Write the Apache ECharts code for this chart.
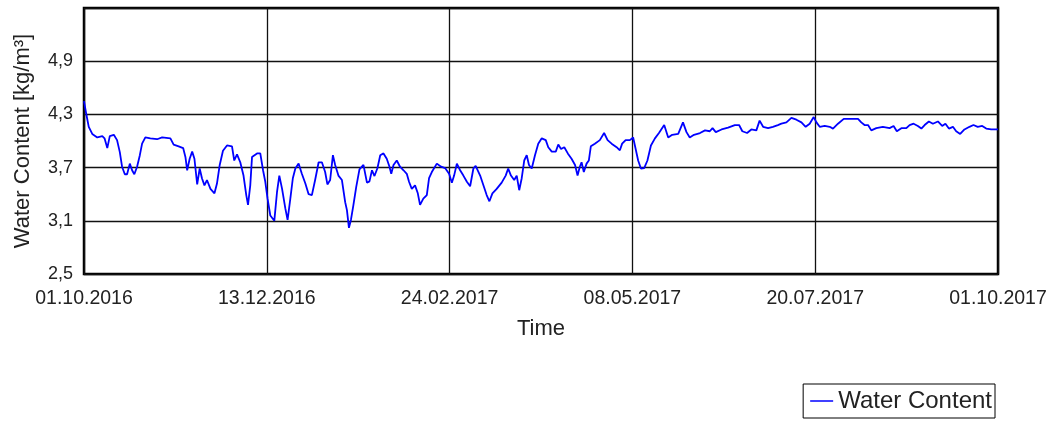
<!DOCTYPE html>
<html>
<head>
<meta charset="utf-8">
<title>Water Content</title>
<script src="https://cdn.jsdelivr.net/npm/echarts@6/dist/echarts.min.js"></script>
<style>
  html, body { margin: 0; padding: 0; background: #fff; }
  #chart { width: 1053px; height: 421px; }
</style>
</head>
<body>
<div id="chart"></div>
<script>
// Measurement period start (day 0) and axis settings
const startDate = Date.UTC(2016, 9, 1);
const axisDays = { min: 0, max: 365, step: 73 };
const yTicks = { min: 2.5, max: 5.5, step: 0.6 };

// Days since 01.10.2016
const dayOffsets = [
  0, 1.0, 1.9, 3.3, 5.3, 7.3, 8.2, 9.3, 10.3, 11.9, 13.2, 14.3, 15.2, 16.3, 17.2, 18.3, 19.2, 20.1, 21.2, 22.3,
  23.2, 24.5, 26.5, 29.2, 31.2, 34.5, 35.8, 37.8, 39.6, 40.5, 41.2, 42.2, 43.2, 44.1, 45.2, 46.2, 47.1, 48.1, 49.1, 50.5,
  52.1, 53.1, 54.2, 55.5, 57.1, 59.1, 60.0, 61.1, 62.4, 63.7, 64.8, 65.5, 66.4, 67.1, 69.1, 70.4, 71.5, 72.4, 73.3, 74.4,
  76.0, 77.1, 78.0, 79.1, 80.4, 81.3, 82.4, 83.4, 84.4, 85.7, 87.0, 88.4, 89.7, 91.0, 92.3, 93.7, 95.0, 96.3, 97.2, 98.3,
  99.4, 100.3, 101.6, 103.0, 104.3, 105.0, 105.8, 106.6, 107.6, 108.7, 110.0, 111.6, 113.0, 114.0, 115.0, 116.0, 117.2, 118.3, 119.6, 120.9,
  122.0, 122.7, 123.6, 124.9, 126.2, 127.6, 128.9, 129.8, 130.9, 132.2, 133.3, 134.2, 135.5, 136.9, 137.8, 138.9, 140.9, 142.6, 144.2, 145.8,
  146.9, 147.8, 148.9, 150.2, 151.5, 152.9, 154.2, 155.5, 156.4, 158.2, 159.5, 160.8, 161.9, 163.1, 164.8, 166.8, 168.4, 169.4, 170.5, 171.8,
  172.8, 173.8, 174.8, 175.8, 176.8, 177.7, 178.8, 180.1, 181.4, 182.8, 184.4, 185.4, 186.8, 188.4, 189.4, 190.5, 191.8, 193.2, 194.7, 196.1,
  197.1, 198.0, 198.7, 199.6, 200.7, 201.6, 202.4, 204.0, 206.0, 207.7, 209.1, 210.7, 212.7, 214.0, 214.9, 216.3, 218.0, 219.3, 220.3, 221.3,
  222.4, 223.7, 225.0, 226.4, 228.0, 229.6, 231.7, 233.3, 234.9, 237.3, 239.2, 240.6, 241.9, 243.6, 246.0, 248.0, 249.9, 251.0, 252.3, 254.6,
  257.2, 259.9, 261.6, 262.9, 264.8, 266.5, 268.5, 269.8, 271.2, 273.2, 275.1, 277.1, 278.5, 280.5, 282.5, 284.5, 286.5, 288.2, 289.8, 291.4,
  292.5, 293.8, 295.8, 297.8, 299.1, 301.1, 303.4, 305.8, 309.1, 310.4, 311.7, 313.1, 314.4, 316.4, 319.0, 321.7, 323.3, 324.6, 326.4, 328.4,
  329.7, 331.3, 333.0, 334.4, 335.7, 337.4, 339.0, 341.0, 342.7, 344.0, 345.4, 347.0, 348.3, 349.9, 351.6, 353.6, 355.2, 356.9, 358.7, 360.3,
  362.3, 364.0, 365.0
];

// Water content [kg/m³]
const waterContent = [
  4.45, 4.29, 4.16, 4.08, 4.04, 4.055, 4.03, 3.92, 4.055, 4.07, 4.01, 3.875, 3.71, 3.625, 3.625, 3.745, 3.67, 3.625, 3.71, 3.84,
  3.97, 4.04, 4.03, 4.02, 4.04, 4.03, 3.96, 3.94, 3.92, 3.82, 3.67, 3.80, 3.88, 3.80, 3.51, 3.69, 3.58, 3.50, 3.56, 3.46,
  3.41, 3.52, 3.73, 3.89, 3.95, 3.94, 3.78, 3.85, 3.76, 3.61, 3.39, 3.28, 3.50, 3.82, 3.86, 3.86, 3.67, 3.54, 3.35, 3.16,
  3.10, 3.43, 3.61, 3.46, 3.24, 3.11, 3.35, 3.58, 3.69, 3.745, 3.63, 3.52, 3.40, 3.39, 3.56, 3.76, 3.76, 3.65, 3.51, 3.56,
  3.84, 3.73, 3.61, 3.56, 3.31, 3.22, 3.02, 3.11, 3.28, 3.48, 3.68, 3.73, 3.53, 3.545, 3.67, 3.605, 3.695, 3.84, 3.86, 3.80,
  3.71, 3.63, 3.73, 3.78, 3.71, 3.67, 3.63, 3.54, 3.46, 3.50, 3.41, 3.28, 3.35, 3.39, 3.58, 3.65, 3.745, 3.71, 3.695, 3.63,
  3.53, 3.61, 3.745, 3.67, 3.61, 3.54, 3.49, 3.69, 3.72, 3.61, 3.50, 3.39, 3.32, 3.41, 3.46, 3.53, 3.61, 3.69, 3.61, 3.56,
  3.61, 3.445, 3.58, 3.78, 3.84, 3.73, 3.69, 3.84, 3.97, 4.03, 4.01, 3.93, 3.88, 3.88, 3.96, 3.91, 3.93, 3.86, 3.80, 3.73,
  3.61, 3.71, 3.76, 3.65, 3.745, 3.78, 3.94, 3.97, 4.01, 4.09, 4.01, 3.97, 3.93, 3.895, 3.97, 4.01, 4.01, 4.04, 3.91, 3.78,
  3.69, 3.695, 3.78, 3.95, 4.03, 4.09, 4.18, 4.04, 4.07, 4.08, 4.21, 4.10, 4.04, 4.07, 4.09, 4.12, 4.11, 4.145, 4.10, 4.13,
  4.15, 4.18, 4.18, 4.11, 4.09, 4.13, 4.12, 4.23, 4.16, 4.145, 4.16, 4.18, 4.195, 4.21, 4.26, 4.24, 4.21, 4.16, 4.195, 4.27,
  4.21, 4.16, 4.17, 4.16, 4.14, 4.195, 4.25, 4.25, 4.25, 4.21, 4.18, 4.18, 4.12, 4.145, 4.16, 4.145, 4.17, 4.11, 4.145, 4.145,
  4.18, 4.195, 4.17, 4.14, 4.18, 4.22, 4.195, 4.22, 4.17, 4.195, 4.14, 4.16, 4.11, 4.08, 4.13, 4.16, 4.18, 4.16, 4.17, 4.14,
  4.13, 4.13, 4.13
];

const seriesPoints = dayOffsets.map((d, i) => [d, waterContent[i]]);

function pad2(n) { return (n < 10 ? '0' : '') + n; }
function dayLabel(v) {
  const d = new Date(startDate + Math.round(v) * 86400000);
  return pad2(d.getUTCDate()) + '.' + pad2(d.getUTCMonth() + 1) + '.' + d.getUTCFullYear();
}

const chart = echarts.init(document.getElementById('chart'), null, { renderer: 'canvas' });
const fontFamily = '"Liberation Sans", Arial, sans-serif';

chart.setOption({
  animation: false,
  backgroundColor: '#ffffff',
  textStyle: { fontFamily: fontFamily },
  grid: {
    left: 84, right: 55, top: 8, bottom: 147,
    show: true,
    borderColor: '#000000',
    borderWidth: 2.5,
    backgroundColor: '#ffffff'
  },
  legend: {
    data: [{ name: 'Water Content', icon: 'rect' }],
    right: 58,
    bottom: 3,
    orient: 'horizontal',
    borderColor: '#000000',
    borderWidth: 1,
    borderRadius: 0,
    padding: [5, 3, 5, 7],
    itemWidth: 23,
    itemHeight: 1.5,
    itemGap: 5,
    itemStyle: { color: '#0000ff' },
    textStyle: { fontSize: 24, color: '#222', fontFamily: fontFamily, padding: [0, 0, 0, 0] }
  },
  xAxis: {
    type: 'value',
    min: axisDays.min,
    max: axisDays.max,
    interval: axisDays.step,
    name: 'Time',
    nameLocation: 'middle',
    nameGap: 44,
    nameTextStyle: { fontSize: 22, color: '#222', fontFamily: fontFamily },
    axisLine: { show: false },
    axisTick: { show: false },
    axisLabel: {
      fontSize: 19.5,
      color: '#222',
      margin: 15,
      showMinLabel: true,
      showMaxLabel: true,
      formatter: dayLabel
    },
    splitLine: { show: true, lineStyle: { color: '#111', width: 1.3 } }
  },
  yAxis: {
    type: 'value',
    min: yTicks.min,
    max: yTicks.max,
    interval: yTicks.step,
    name: 'Water Content [kg/m³]',
    nameLocation: 'middle',
    nameGap: 50,
    nameTextStyle: { fontSize: 22, color: '#222', fontFamily: fontFamily },
    axisLine: { show: false },
    axisTick: { show: false },
    axisLabel: {
      fontSize: 18,
      color: '#222',
      margin: 11,
      formatter: function (v) {
        if (Math.abs(v - yTicks.max) < 1e-6) return '';
        return v.toFixed(1).replace('.', ',');
      }
    },
    splitLine: { show: true, lineStyle: { color: '#111', width: 1.3 } }
  },
  series: [{
    name: 'Water Content',
    type: 'line',
    data: seriesPoints,
    symbol: 'none',
    showSymbol: false,
    lineStyle: { color: '#0000ff', width: 1.8 },
    itemStyle: { color: '#0000ff' }
  }]
});
</script>
</body>
</html>
